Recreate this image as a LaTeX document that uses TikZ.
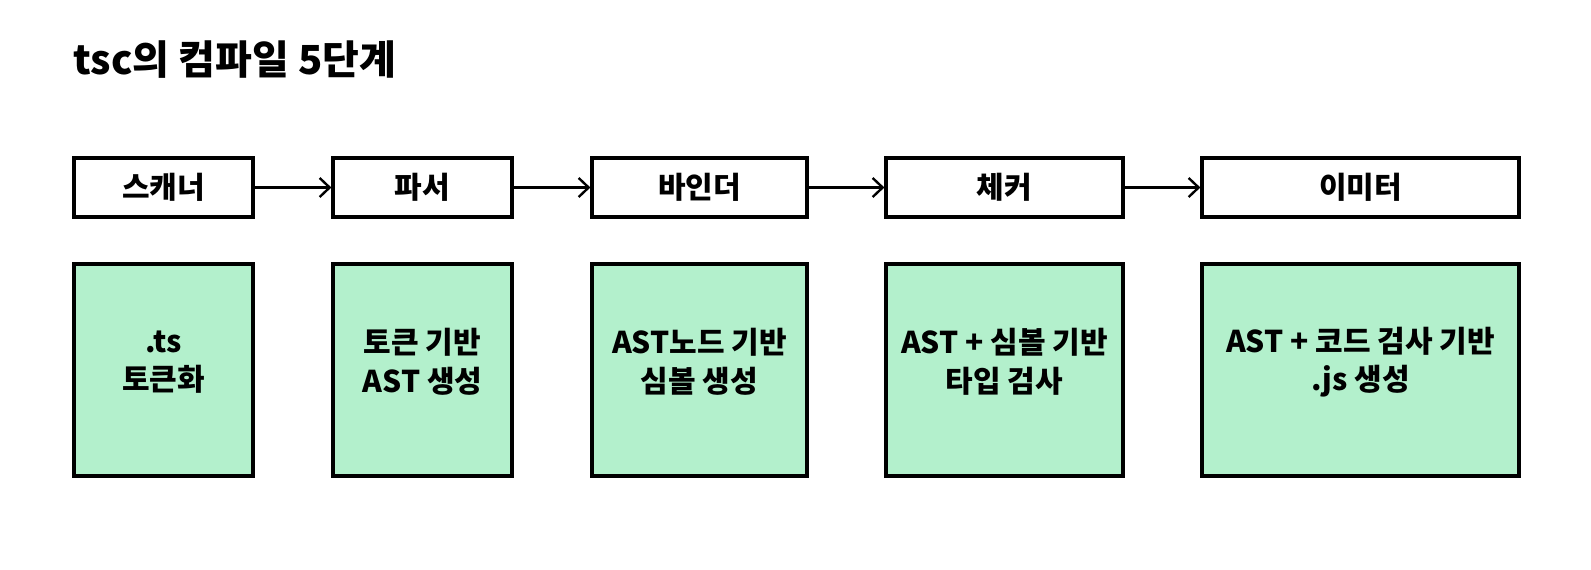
\documentclass[tikz,border=0pt]{standalone}
\usepackage{fontspec}
\setmainfont{Noto Sans CJK KR}
\usetikzlibrary{arrows.meta}
\definecolor{stepgreen}{HTML}{B3F0CC}
\begin{document}
\begin{tikzpicture}[x=0.5pt,y=-0.5pt,
    phase/.style={draw,line width=1.6pt,minimum height=29.5pt,inner sep=0pt,
      font=\fontsize{15}{18}\selectfont\bfseries},
    work/.style={draw,line width=1.6pt,fill=stepgreen,minimum height=106pt,inner sep=0pt},
    worktext/.style={align=center,font=\fontsize{15}{19.3}\selectfont\bfseries},
    flow/.style={line width=1.2pt,-{Straight Barb[length=5pt,width=9.5pt,line width=1.2pt]}}]
  \useasboundingbox (0,0) rectangle (1591,569);
  \node[anchor=base west,inner sep=0pt,font=\fontsize{20}{24}\selectfont\bfseries] (title) at (73,74) {tsc의 컴파일 5단계};
  % stages
  \draw
    (163.5,187.5) node[phase,minimum width=89.5pt] (p1){스캐너}
    (422.5,187.5) node[phase,minimum width=89.5pt] (p2){파서}
    (699.5,187.5) node[phase,minimum width=107.5pt] (p3){바인더}
    (1004.5,187.5) node[phase,minimum width=118.5pt] (p4){체커}
    (1360.5,187.5) node[phase,minimum width=158.5pt] (p5){이미터};
  % what each stage does
  \draw
    (163.5,370) node[work,minimum width=89.5pt] (w1){}
    (422.5,370) node[work,minimum width=89.5pt] (w2){}
    (699.5,370) node[work,minimum width=107.5pt] (w3){}
    (1004.5,370) node[work,minimum width=118.5pt] (w4){}
    (1360.5,370) node[work,minimum width=158.5pt] (w5){};
  \node[worktext] (t1) at ([yshift=4pt]w1.center) {.ts\\토큰화};
  \node[worktext] (t2) at ([yshift=4pt]w2.center) {토큰 기반\\AST 생성};
  \node[worktext] (t3) at ([yshift=4pt]w3.center) {AST노드 기반\\심볼 생성};
  \node[worktext] (t4) at ([yshift=4pt]w4.center) {AST + 심볼 기반\\타입 검사};
  \node[worktext] (t5) at ([yshift=4pt]w5.center) {AST + 코드 검사 기반\\.js 생성};
  \begin{scope}[flow]
    \draw (p1) to (p2);
    \draw (p2) to (p3);
    \draw (p3) to (p4);
    \draw (p4) to (p5);
  \end{scope}
\end{tikzpicture}
\end{document}
